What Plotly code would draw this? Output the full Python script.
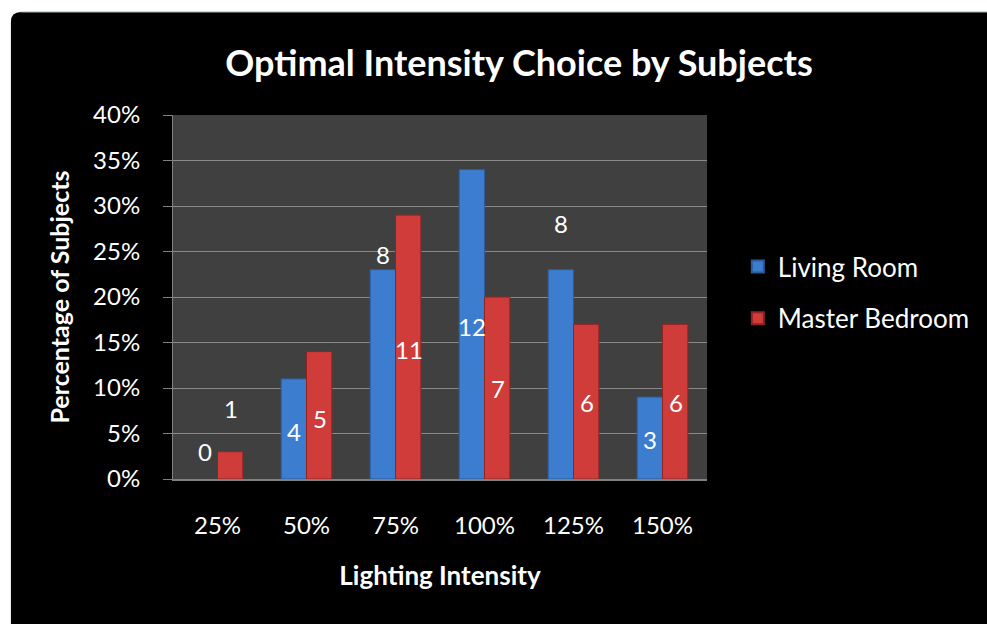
import plotly.graph_objects as go

categories = ["25%", "50%", "75%", "100%", "125%", "150%"]
living_room = [0.00, 0.11, 0.23, 0.34, 0.23, 0.09]
master_bedroom = [0.03, 0.14, 0.29, 0.20, 0.17, 0.17]
living_counts = [0, 4, 8, 12, 8, 3]
master_counts = [1, 5, 11, 7, 6, 6]
living_label_y = [0.030, 0.052, 0.247, 0.168, 0.281, 0.043]
master_label_y = [0.078, 0.067, 0.142, 0.099, 0.084, 0.084]

FONT = "Lato, 'Open Sans', sans-serif"
BLUE = "#3C7DD0"
BLUE_EDGE = "#2A5C9C"
RED = "#D03C3A"
RED_EDGE = "#8E2422"

fig = go.Figure()
fig.add_trace(go.Bar(name="Living Room", x=categories, y=living_room, legendgroup="a",
                     marker=dict(color=BLUE, line=dict(color=BLUE_EDGE,
                                 width=[1 if v > 0 else 0 for v in living_room]))))
fig.add_trace(go.Bar(name="Master Bedroom", x=categories, y=master_bedroom, legendgroup="b",
                     marker=dict(color=RED, line=dict(color=RED_EDGE,
                                 width=[1 if v > 0 else 0 for v in master_bedroom]))))

annotations = []
for cat, c, y in zip(categories, living_counts, living_label_y):
    annotations.append(dict(x=cat, y=y, text=str(c), showarrow=False, xshift=-13,
                            font=dict(family=FONT, size=24, color="white")))
for cat, c, y in zip(categories, master_counts, master_label_y):
    annotations.append(dict(x=cat, y=y, text=str(c), showarrow=False, xshift=13,
                            font=dict(family=FONT, size=24, color="white")))

# plot area: x 173..710, y 115..479 px
L, R, T, B = 173, 710, 115, 479
W, H = 987, 624
def px(x):
    return (x - L) / (R - L)
def py(y):
    return (B - y) / (B - T)

# white page border outside the black rounded chart box (left & top)
bx, by, rad = 10, 12, 10
rx = rad / (R - L)
ry = rad / (B - T)
p0x, p1x = px(-5), px(W + 5)
p0y, p1y = py(-5), py(H + 5)
edge_path = (f"M {p0x},{p0y} L {p1x},{p0y} L {p1x},{py(by)} L {px(bx)+rx},{py(by)} "
             f"Q {px(bx)},{py(by)} {px(bx)},{py(by)-ry} L {px(bx)},{p1y} L {p0x},{p1y} Z")

fig.update_layout(
    width=W, height=H,
    margin=dict(l=L, r=W - R, t=T, b=H - B, pad=0),
    paper_bgcolor="black",
    plot_bgcolor="#404040",
    barmode="group", bargap=0.43, bargroupgap=0.0,
    font=dict(family=FONT, color="white"),
    title=dict(text="<b>Optimal Intensity Choice by Subjects</b>",
               x=519 / W, xanchor="center", y=1 - 63 / H, yanchor="middle",
               font=dict(family=FONT, size=36, color="white")),
    showlegend=True,
    legend=dict(x=px(741), xanchor="left", y=py(243), yanchor="top",
                font=dict(family=FONT, size=26, color="white"),
                bgcolor="rgba(0,0,0,0)", tracegroupgap=15, traceorder="grouped",
                itemsizing="constant"),
    annotations=annotations,
    shapes=[dict(type="path", path=edge_path, xref="paper", yref="paper",
                 fillcolor="white", line=dict(width=0), layer="below"),
            dict(type="line", xref="paper", yref="paper", x0=px(bx + rad), x1=px(W + 5),
                 y0=py(by), y1=py(by), line=dict(color="#9FB0B8", width=1), layer="below")],
    xaxis=dict(title=dict(text="<b>Lighting Intensity</b>", standoff=29,
                          font=dict(family=FONT, size=26, color="white")),
               tickfont=dict(family=FONT, size=24, color="white"),
               showline=True, linecolor="#808080", linewidth=2,
               ticks="", ticklabelstandoff=24, showgrid=False),
    yaxis=dict(title=dict(text="<b>Percentage of Subjects</b>", standoff=16,
                          font=dict(family=FONT, size=25, color="white")),
               range=[0, 0.4], dtick=0.05, tickformat=".0%",
               tickfont=dict(family=FONT, size=24, color="white"),
               showgrid=True, gridcolor="#8A8A8A", gridwidth=1,
               showline=True, linecolor="#808080", linewidth=1,
               ticks="outside", ticklen=9, tickcolor="#808080",
               ticklabelstandoff=18, zeroline=False),
)

fig.write_html("out.html", config={"displayModeBar": False},
               post_script="document.body.style.margin='0px';")
